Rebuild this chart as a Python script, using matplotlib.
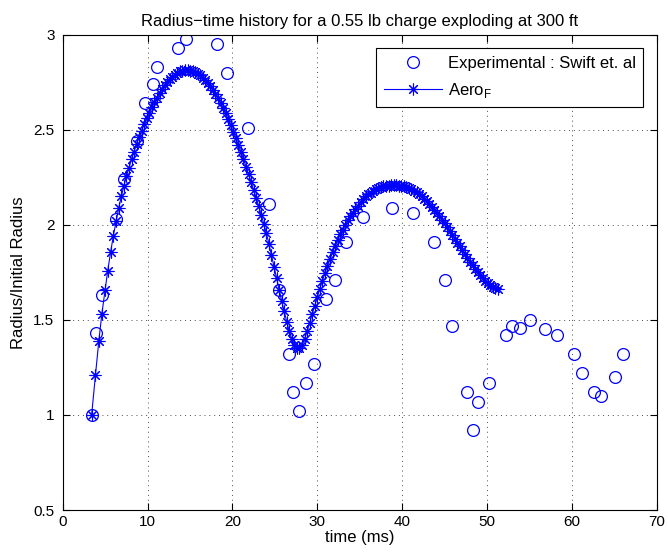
import matplotlib
matplotlib.use("Agg")
import matplotlib.pyplot as plt

plt.rcParams['font.family'] = ['Liberation Sans', 'DejaVu Sans']
plt.rcParams['font.size'] = 10

# experimental points (Swift et al)
t_exp = [3.42, 3.9, 4.63, 6.32, 7.25, 8.75, 9.66, 10.65, 11.1, 13.6,
         14.58, 18.18, 19.4, 21.84, 24.28, 25.45, 26.67, 27.14, 27.85, 28.64,
         29.62, 31.07, 32.05, 33.43, 35.4, 38.8, 41.3, 43.7, 45.1, 45.9,
         47.6, 48.3, 49.0, 50.2, 52.2, 52.95, 53.9, 55.1, 56.8, 58.25,
         60.2, 61.2, 62.65, 63.4, 65.1, 66.0]
r_exp = [1.0, 1.43, 1.63, 2.03, 2.24, 2.44, 2.64, 2.74, 2.83, 2.93,
         2.98, 2.95, 2.80, 2.51, 2.11, 1.66, 1.32, 1.12, 1.02, 1.17,
         1.27, 1.61, 1.71, 1.91, 2.04, 2.09, 2.06, 1.91, 1.71, 1.47,
         1.12, 0.92, 1.07, 1.17, 1.42, 1.47, 1.46, 1.50, 1.45, 1.42,
         1.32, 1.22, 1.12, 1.10, 1.20, 1.32]

# Aero_F model curve
t_aero = [3.40, 3.85, 4.25, 4.60, 5.00, 5.30, 5.65, 5.95, 6.30, 6.60,
          6.90, 7.20, 7.50, 7.80, 8.10, 8.40, 8.70, 9.00, 9.30, 9.60,
          9.90, 10.2, 10.5, 10.8, 11.1, 11.4, 11.7, 12.0, 12.3, 12.6,
          12.9, 13.2, 13.5, 13.8, 14.1, 14.4, 14.7, 15.0, 15.3, 15.6,
          15.9, 16.2, 16.5, 16.8, 17.1, 17.4, 17.7, 18.0, 18.3, 18.6,
          18.9, 19.2, 19.5, 19.8, 20.1, 20.4, 20.7, 21.0, 21.3, 21.6,
          21.9, 22.2, 22.5, 22.8, 23.1, 23.4, 23.7, 24.0, 24.3, 24.6,
          24.9, 25.2, 25.5, 25.8, 26.1, 26.4, 26.7, 27.0, 27.3, 27.6,
          27.9, 28.2, 28.5, 28.8, 29.1, 29.4, 29.7, 30.0, 30.3, 30.6,
          30.9, 31.2, 31.5, 31.8, 32.1, 32.4, 32.7, 33.0, 33.3, 33.6,
          33.9, 34.2, 34.5, 34.8, 35.1, 35.4, 35.7, 36.0, 36.3, 36.6,
          36.9, 37.2, 37.5, 37.8, 38.1, 38.4, 38.7, 39.0, 39.3, 39.6,
          39.9, 40.2, 40.5, 40.8, 41.1, 41.4, 41.7, 42.0, 42.3, 42.6,
          42.9, 43.2, 43.5, 43.8, 44.1, 44.4, 44.7, 45.0, 45.3, 45.6,
          45.9, 46.2, 46.5, 46.8, 47.1, 47.4, 47.7, 48.0, 48.3, 48.6,
          48.9, 49.2, 49.5, 49.8, 50.1, 50.4, 50.7, 51.0, 51.3]
r_aero = [1.00, 1.21, 1.39, 1.53, 1.66, 1.76, 1.86, 1.94, 2.02, 2.09,
          2.15, 2.205, 2.255, 2.30, 2.345, 2.385, 2.425, 2.46, 2.495, 2.53,
          2.56, 2.59, 2.62, 2.645, 2.67, 2.695, 2.715, 2.735, 2.752, 2.767,
          2.78, 2.79, 2.80, 2.807, 2.812, 2.815, 2.815, 2.812, 2.808, 2.802,
          2.795, 2.786, 2.775, 2.762, 2.747, 2.730, 2.711, 2.690, 2.667, 2.642,
          2.615, 2.586, 2.556, 2.524, 2.491, 2.457, 2.421, 2.384, 2.346, 2.307,
          2.267, 2.226, 2.184, 2.141, 2.097, 2.053, 2.005, 1.955, 1.90, 1.84,
          1.78, 1.72, 1.66, 1.60, 1.545, 1.49, 1.44, 1.40, 1.37, 1.355,
          1.355, 1.37, 1.40, 1.44, 1.485, 1.53, 1.575, 1.62, 1.665, 1.705,
          1.745, 1.785, 1.82, 1.855, 1.89, 1.92, 1.95, 1.975, 2.00, 2.025,
          2.045, 2.065, 2.085, 2.10, 2.12, 2.135, 2.15, 2.16, 2.17, 2.18,
          2.187, 2.193, 2.198, 2.202, 2.205, 2.207, 2.208, 2.208, 2.208, 2.207,
          2.205, 2.202, 2.198, 2.193, 2.187, 2.18, 2.171, 2.161, 2.15, 2.138,
          2.125, 2.111, 2.096, 2.08, 2.063, 2.045, 2.027, 2.008, 1.988, 1.968,
          1.948, 1.928, 1.907, 1.887, 1.866, 1.846, 1.826, 1.806, 1.787, 1.769,
          1.751, 1.735, 1.72, 1.706, 1.694, 1.684, 1.675, 1.668, 1.662]

fig = plt.figure(figsize=(6.68, 5.52), dpi=100)
ax = fig.add_axes([0.094, 0.076, 0.889, 0.861])

ax.plot(t_exp, r_exp, linestyle='none', marker='o', markersize=8.5,
        markerfacecolor='none', markeredgecolor='b', markeredgewidth=0.9,
        label='Experimental : Swift et. al')
ax.plot(t_aero, r_aero, color='b', linewidth=0.8, marker=(8, 2, 0),
        markersize=8.5, markeredgewidth=0.8,
        label=r'Aero$_{\mathregular{F}}$')

ax.set_xlim(0, 70)
ax.set_ylim(0.5, 3)
ax.set_xticks(range(0, 71, 10))
ax.set_yticks([0.5, 1, 1.5, 2, 2.5, 3])
ax.set_yticklabels(['0.5', '1', '1.5', '2', '2.5', '3'])
ax.grid(True, linestyle=(0, (1, 4)), color='0.3', linewidth=0.7)
ax.tick_params(direction='in', top=True, right=True, length=5, labelsize=11)
ax.tick_params(axis='y', pad=6)

ax.set_xlabel('time (ms)', fontsize=12, labelpad=1)
ax.set_ylabel('Radius/Initial Radius', fontsize=12, labelpad=5)
ax.set_title('Radius\u2212time history for a 0.55 lb charge exploding at 300 ft',
             fontsize=12, pad=6)

leg = ax.legend(loc='upper right', fancybox=False, framealpha=1,
                edgecolor='k', handlelength=3.5, handletextpad=0.35,
                numpoints=1, fontsize=12, borderaxespad=0.8,
                borderpad=0.45, labelspacing=0.6)
leg.get_frame().set_linewidth(0.8)

fig.savefig('out.png', dpi=100)
